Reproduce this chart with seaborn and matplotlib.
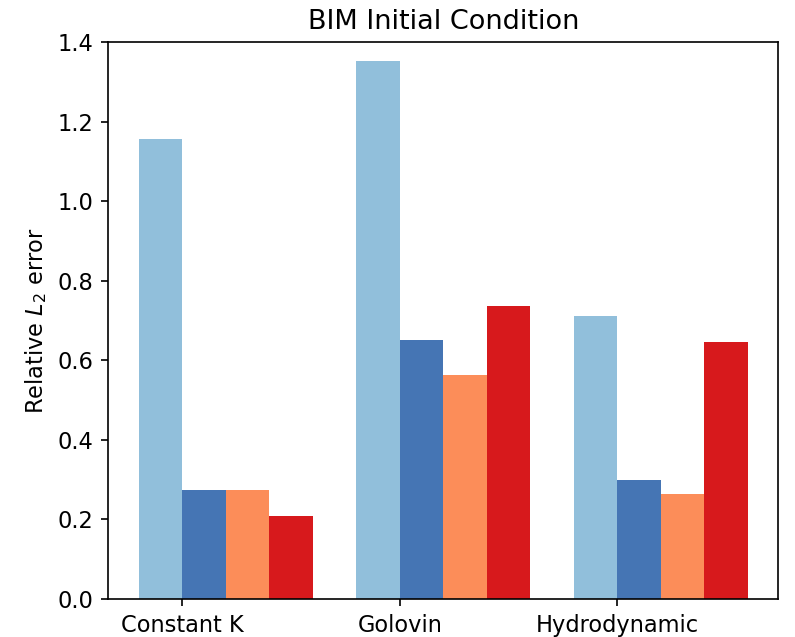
import pandas as pd
import matplotlib
matplotlib.use("Agg")
import matplotlib.pyplot as plt
import seaborn as sns

# values
kernels = ["Constant K", "Golovin", "Hydrodynamic"]
methods = ["Method 1", "Method 2", "Method 3", "Method 4"]
errors = {
    "Method 1": [1.157, 1.352, 0.710],
    "Method 2": [0.273, 0.650, 0.298],
    "Method 3": [0.273, 0.564, 0.263],
    "Method 4": [0.208, 0.737, 0.647],
}
colors = ["#91bfdb", "#4575b4", "#fc8d59", "#d7191c"]

rows = []
for m in methods:
    for k, v in zip(kernels, errors[m]):
        rows.append({"kernel": k, "method": m, "error": v})
df = pd.DataFrame(rows)

fig = plt.figure(figsize=(5.3, 4.2467), dpi=150)
ax = fig.add_axes([0.136, 0.0597, 0.843, 0.8744])

sns.barplot(data=df, x="kernel", y="error", hue="method", order=kernels,
            hue_order=methods, palette=colors, saturation=1, width=0.8,
            linewidth=0, legend=False, ax=ax)

# ticks sit at the boundary between the first and second bar
ax.set_xticks([i - 0.2 for i in range(len(kernels))])
ax.set_xticklabels(kernels, fontsize=10.8)
ax.set_xlim(-0.54, 2.54)
ax.set_ylim(0, 1.4)
ax.set_yticks([0.0, 0.2, 0.4, 0.6, 0.8, 1.0, 1.2, 1.4])
ax.set_yticklabels([f"{t:.1f}" for t in ax.get_yticks()], fontsize=10.8)
ax.set_xlabel("")
ax.set_ylabel("Relative $L_2$ error", fontsize=10.8)
ax.set_title("BIM Initial Condition", fontsize=13)

fig.savefig("out.png", dpi=150)
